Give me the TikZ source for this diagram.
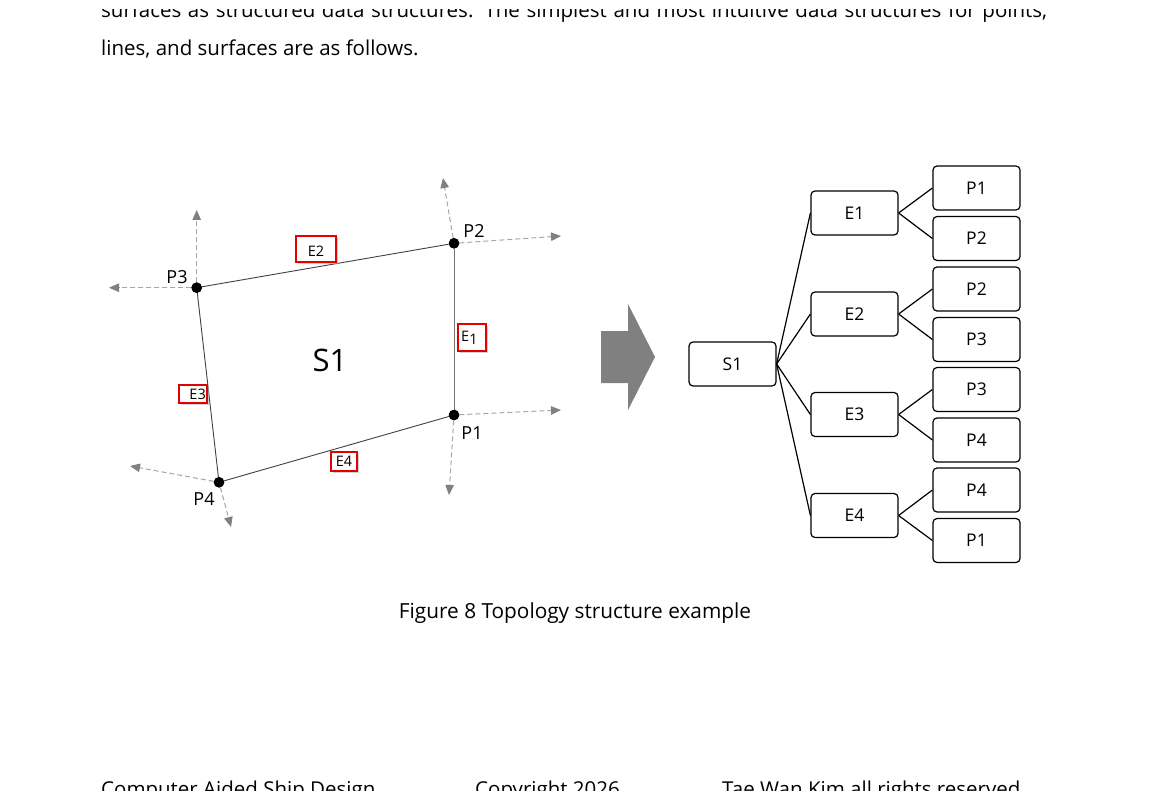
\documentclass[tikz,border=0pt]{standalone}
\usepackage{fontspec}
\setmainfont{Open Sans}
\usetikzlibrary{arrows.meta,shadows}
\tikzset{
  dot/.style={circle, fill=black, inner sep=0pt, minimum size=10.5pt},
  edgeline/.style={draw=black!75, line width=0.9pt},
  ray/.style={draw=black!35, dash pattern=on 5pt off 3pt, line width=1pt,
    -{Triangle[length=10pt,width=8.5pt,color=black!50]}},
  ptlabel/.style={anchor=base, inner sep=0pt, font=\fontsize{18}{20}\selectfont},
  redbox/.style={draw=red!90!black, line width=1.2pt, fill=white,
    drop shadow={fill=black!30, shadow xshift=1.5pt, shadow yshift=-1.5pt, opacity=0.6}},
  boxtext/.style={inner sep=0pt, font=\fontsize{14.5}{16}\selectfont},
  tbox/.style={draw, rounded corners=4pt, line width=1.2pt, minimum width=87pt,
    minimum height=44pt, inner sep=0pt, font=\fontsize{17.5}{20}\selectfont},
  link/.style={draw, line width=1.2pt},
  body/.style={anchor=base west, inner sep=0pt, font=\fontsize{20.5}{24}\selectfont}
}
\begin{document}
\begin{tikzpicture}[x=1pt,y=-1pt]
\useasboundingbox (0,0) rectangle (1150,802);
\begin{scope}
\clip (0,10) rectangle (1150,790);
\node[body] (t1) at (101,17.5) {\makebox[946pt][s]{surfaces as structured data structures. The simplest and most intuitive data structures for points,}};
\node[body] (t2) at (101,56) {lines, and surfaces are as follows.};
\node[body] (f1) at (101,796.5) {Computer Aided Ship Design};
\node[body] (f2) at (475,796.5) {Copyright 2026};
\node[body] (f3) at (722,796.5) {Tae Wan Kim all rights reserved};
\end{scope}

% left diagram
\node[dot] (P3) at (196.7,287.7) {};
\node[dot] (P2) at (454,243.3) {};
\node[dot] (P1) at (454,415) {};
\node[dot] (P4) at (219,482.3) {};
\coordinate (P3u) at (196.7,210);
\coordinate (P3l) at (109,287.7);
\coordinate (P2u) at (443,178);
\coordinate (P2r) at (561,236);
\coordinate (P1r) at (561,410);
\coordinate (P1d) at (449,495);
\coordinate (P4l) at (130,466);
\coordinate (P4d) at (231,527);
\draw[ray] (P3) -- (P3u);
\draw[ray] (P3) -- (P3l);
\draw[ray] (P2) -- (P2u);
\draw[ray] (P2) -- (P2r);
\draw[ray] (P1) -- (P1r);
\draw[ray] (P1) -- (P1d);
\draw[ray] (P4) -- (P4l);
\draw[ray] (P4) -- (P4d);
\draw[edgeline] (P3) -- (P2);
\draw[edgeline, draw=black!55] (P2) -- (P1);
\draw[edgeline] (P1) -- (P4);
\draw[edgeline] (P4) -- (P3);
\node[dot] at (P3) {};
\node[dot] at (P2) {};
\node[dot] at (P1) {};
\node[dot] at (P4) {};

\node[ptlabel] (lP3) at (177,283) {P3};
\node[ptlabel] (lP2) at (474,238) {P2};
\node[ptlabel] (lP1) at (472,439) {P1};
\node[ptlabel] (lP4) at (204,505) {P4};
\node[inner sep=0pt, font=\fontsize{31}{34}\selectfont] (S1big) at (330,360) {S1};

\path[redbox] (296,236) rectangle (336,262);
\node[boxtext] (lE2) at (316,251) {E2};
\path[redbox] (458,324) rectangle (486,351);
\node[boxtext, anchor=west] (lE1) at (461,338) {E\raisebox{-3pt}{1}};
\path[redbox] (179,385) rectangle (207,403);
\node[boxtext, anchor=east] (lE3) at (206,394) {E3};
\path[redbox] (331,452) rectangle (357,471);
\node[boxtext] (lE4) at (344,461) {E4};

% big arrow
\fill[black!50] (601,331) -- (628,331) -- (628,304) -- (655,357) -- (628,410) -- (628,383) -- (601,383) -- cycle;

% tree
\node[tbox] (tS1) at (732.5,364) {S1};
\node[tbox] (tE1) at (854.5,213) {E1};
\node[tbox] (tE2) at (854.5,314) {E2};
\node[tbox] (tE3) at (854.5,414.5) {E3};
\node[tbox] (tE4) at (854.5,515.5) {E4};
\node[tbox] (a1) at (976.5,188) {P1};
\node[tbox] (a2) at (976.5,238.5) {P2};
\node[tbox] (b1) at (976.5,289) {P2};
\node[tbox] (b2) at (976.5,339.5) {P3};
\node[tbox] (c1) at (976.5,389.5) {P3};
\node[tbox] (c2) at (976.5,440) {P4};
\node[tbox] (d1) at (976.5,490) {P4};
\node[tbox] (d2) at (976.5,540.5) {P1};
\foreach \e in {tE1,tE2,tE3,tE4} \draw[link] (tS1.east) -- (\e.west);
\draw[link] (tE1.east) -- (a1.west);
\draw[link] (tE1.east) -- (a2.west);
\draw[link] (tE2.east) -- (b1.west);
\draw[link] (tE2.east) -- (b2.west);
\draw[link] (tE3.east) -- (c1.west);
\draw[link] (tE3.east) -- (c2.west);
\draw[link] (tE4.east) -- (d1.west);
\draw[link] (tE4.east) -- (d2.west);

\node[anchor=base, inner sep=0pt, font=\fontsize{20.8}{24}\selectfont] (cap) at (575,618) {Figure 8 Topology structure example};
\end{tikzpicture}
\end{document}
